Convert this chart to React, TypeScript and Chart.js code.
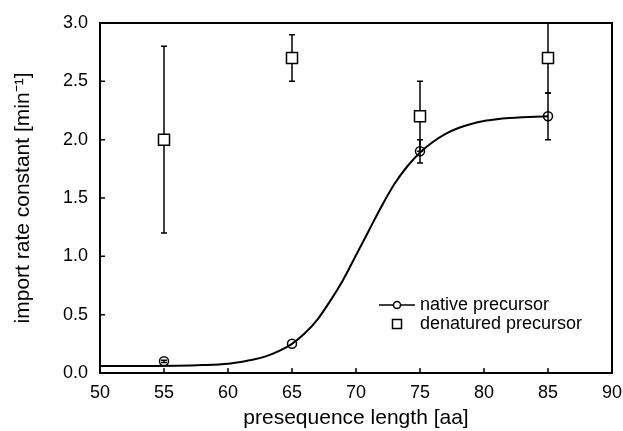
import React, { useEffect, useRef } from "react";
import { Chart, registerables } from "chart.js";

Chart.register(...registerables);

// ---- data ----
const xTicks = [50, 55, 60, 65, 70, 75, 80, 85, 90];
const yTicks = [0, 0.5, 1.0, 1.5, 2.0, 2.5, 3.0];

const nativeX = [55, 65, 75, 85];
const nativeY = [0.1, 0.25, 1.9, 2.2];
const nativeErr = [0.01, 0.0, 0.1, 0.2];

const denaturedX = [55, 65, 75, 85];
const denaturedY = [2.0, 2.7, 2.2, 2.7];
const denaturedErr = [0.8, 0.2, 0.3, 0.3];

const curveX = [50, 52, 54, 56, 58, 60, 61, 62, 63, 64, 65, 66, 67, 68, 69, 70, 71, 72, 73, 74, 75, 76, 77, 78, 79, 80, 81, 82, 83, 84, 85];
const curveY = [0.06, 0.06, 0.06, 0.062, 0.068, 0.08, 0.095, 0.115, 0.145, 0.19, 0.25, 0.34, 0.46, 0.62, 0.80, 1.01, 1.22, 1.43, 1.62, 1.77, 1.89, 1.98, 2.05, 2.10, 2.135, 2.16, 2.175, 2.185, 2.192, 2.197, 2.20];

const legendLabels = ["native precursor", "denatured precursor"];
const xTitle = "presequence length [aa]";
const yTitle = "import rate constant [min\u207B\u00B9]";

const FONT = "'Liberation Sans', Arial, Helvetica, sans-serif";

const boxPlugin = {
  id: "boxAndExtras",
  beforeDatasetsDraw(chart: any) {
    const { ctx, chartArea, scales } = chart;
    const xs = scales.x;
    const ys = scales.y;
    ctx.save();
    ctx.beginPath();
    ctx.rect(chartArea.left, chartArea.top - 1, chartArea.right - chartArea.left, chartArea.bottom - chartArea.top + 1);
    ctx.clip();
    ctx.strokeStyle = "#000";
    ctx.lineWidth = 1.5;
    const drawErr = (xsArr: number[], ysArr: number[], errs: number[]) => {
      for (let i = 0; i < xsArr.length; i++) {
        if (!errs[i]) continue;
        const px = xs.getPixelForValue(xsArr[i]);
        const lo = ys.getPixelForValue(ysArr[i] - errs[i]);
        const hi = ys.getPixelForValue(ysArr[i] + errs[i]);
        ctx.beginPath();
        ctx.moveTo(px, lo);
        ctx.lineTo(px, hi);
        ctx.moveTo(px - 3, lo);
        ctx.lineTo(px + 3, lo);
        ctx.moveTo(px - 3, hi);
        ctx.lineTo(px + 3, hi);
        ctx.stroke();
      }
    };
    drawErr(denaturedX, denaturedY, denaturedErr);
    drawErr(nativeX, nativeY, nativeErr);
    ctx.restore();
  },
  afterDraw(chart: any) {
    const { ctx, chartArea, scales } = chart;
    const xs = scales.x;
    const ys = scales.y;
    ctx.save();
    ctx.strokeStyle = "#000";
    ctx.lineWidth = 2;
    ctx.strokeRect(chartArea.left, chartArea.top, chartArea.right - chartArea.left, chartArea.bottom - chartArea.top);
    // inward ticks
    ctx.lineWidth = 1.5;
    ctx.beginPath();
    for (const v of xTicks) {
      const px = xs.getPixelForValue(v);
      ctx.moveTo(px, chartArea.bottom);
      ctx.lineTo(px, chartArea.bottom - 5);
    }
    for (const v of yTicks) {
      const py = ys.getPixelForValue(v);
      ctx.moveTo(chartArea.left, py);
      ctx.lineTo(chartArea.left + 5, py);
    }
    ctx.stroke();

    // legend
    const lx = chartArea.left + 297;
    const ly1 = chartArea.top + 282;
    const ly2 = chartArea.top + 301;
    ctx.lineWidth = 1.5;
    ctx.beginPath();
    ctx.moveTo(lx - 18, ly1);
    ctx.lineTo(lx - 3.5, ly1);
    ctx.moveTo(lx + 3.5, ly1);
    ctx.lineTo(lx + 18, ly1);
    ctx.stroke();
    ctx.beginPath();
    ctx.arc(lx, ly1, 3.5, 0, Math.PI * 2);
    ctx.stroke();
    ctx.strokeRect(lx - 4.5, ly2 - 4.5, 9, 9);
    ctx.fillStyle = "#000";
    ctx.font = `18px ${FONT}`;
    ctx.textBaseline = "middle";
    ctx.textAlign = "left";
    ctx.fillText(legendLabels[0], lx + 23, ly1);
    ctx.fillText(legendLabels[1], lx + 23, ly2);
    ctx.restore();
  },
};

export default function App() {
  const ref = useRef<HTMLCanvasElement>(null);
  useEffect(() => {
    if (!ref.current) return;
    Chart.defaults.font.family = FONT;
    Chart.defaults.color = "#000";
    const chart = new Chart(ref.current, {
      type: "scatter",
      data: {
        datasets: [
          {
            label: legendLabels[1],
            data: denaturedX.map((x, i) => ({ x, y: denaturedY[i] })),
            pointStyle: "rect",
            pointRadius: 7.8,
            pointBorderWidth: 1.5,
            pointBorderColor: "#000",
            pointBackgroundColor: "#fff",
            showLine: false,
            order: 1,
          },
          {
            label: legendLabels[0],
            data: nativeX.map((x, i) => ({ x, y: nativeY[i] })),
            pointStyle: "circle",
            pointRadius: 4.5,
            pointBorderWidth: 1.5,
            pointBorderColor: "#000",
            pointBackgroundColor: "rgba(0,0,0,0)",
            showLine: false,
            order: 2,
          },
          {
            label: "fit",
            data: curveX.map((x, i) => ({ x, y: curveY[i] })),
            showLine: true,
            pointRadius: 0,
            borderColor: "#000",
            borderWidth: 2,
            cubicInterpolationMode: "monotone",
            order: 3,
          } as any,
        ],
      },
      options: {
        animation: false,
        responsive: false,
        layout: { padding: { left: 0, right: 11, top: 23, bottom: 0 } },
        plugins: { legend: { display: false }, tooltip: { enabled: false } },
        scales: {
          x: {
            type: "linear",
            min: 50,
            max: 90,
            afterBuildTicks: (s: any) => {
              s.ticks = xTicks.map((v) => ({ value: v }));
            },
            grid: { display: false, drawTicks: false },
            border: { display: false },
            ticks: { font: { size: 18, family: FONT }, padding: 9, color: "#000" },
            title: { display: true, text: xTitle, font: { size: 21, family: FONT }, padding: { top: 0, bottom: 0 }, color: "#000" },
            afterFit: (s: any) => {
              s.height = 58;
              s.paddingLeft = 0;
              s.paddingRight = 0;
            },
          },
          y: {
            type: "linear",
            min: 0,
            max: 3,
            afterBuildTicks: (s: any) => {
              s.ticks = yTicks.map((v) => ({ value: v }));
            },
            grid: { display: false, drawTicks: false },
            border: { display: false },
            ticks: {
              font: { size: 18, family: FONT },
              padding: 12,
              color: "#000",
              callback: (v: any) => Number(v).toFixed(1),
            },
            title: { display: true, text: yTitle, font: { size: 21, family: FONT }, padding: { top: 11, bottom: 0 }, color: "#000" },
            afterFit: (s: any) => {
              s.width = 100;
              s.paddingTop = 0;
              s.paddingBottom = 0;
            },
          },
        },
      },
      plugins: [boxPlugin],
    });
    return () => chart.destroy();
  }, []);
  return (
    <div style={{ position: "absolute", left: 0, top: 0, width: 623, height: 431, background: "#fff" }}>
      <canvas ref={ref} width={623} height={431} />
    </div>
  );
}
